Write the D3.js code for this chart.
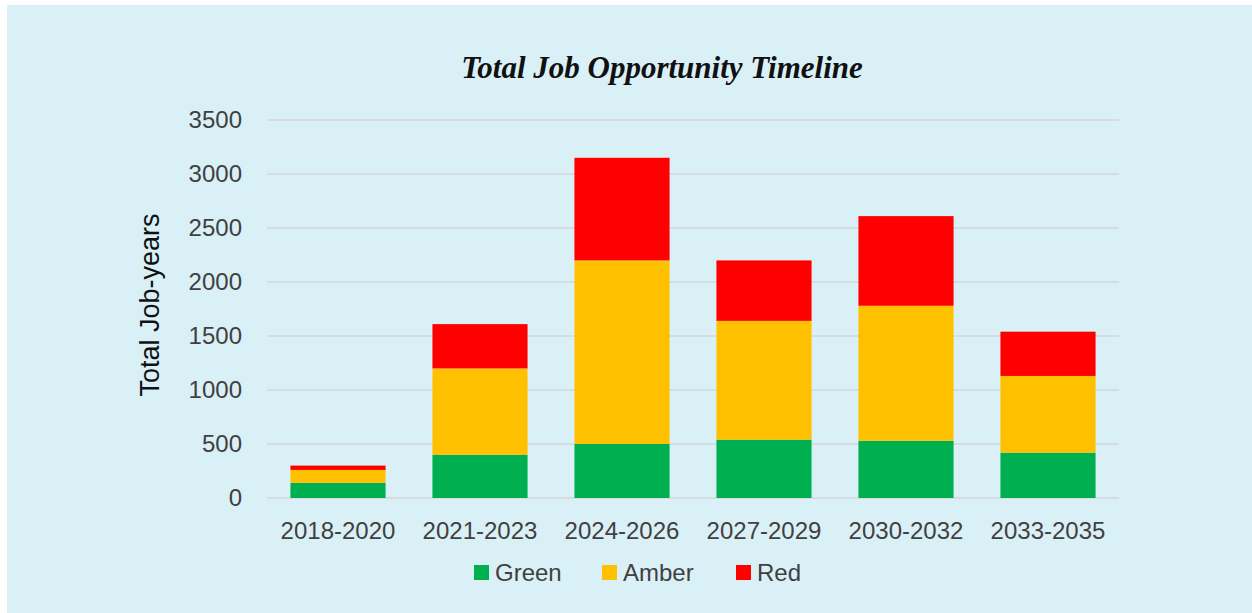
<!DOCTYPE html>
<html>
<head>
<meta charset="utf-8">
<script src="https://cdn.jsdelivr.net/npm/d3@7"></script>
<style>
  body { margin: 0; background: #fff; }
  svg { display: block; }
</style>
</head>
<body>
<div id="chart"></div>
<script>
const periods = ["2018-2020", "2021-2023", "2024-2026", "2027-2029", "2030-2032", "2033-2035"];
const green = [140, 400, 500, 540, 530, 420];
const amber = [120, 800, 1700, 1100, 1250, 710];
const red = [40, 410, 950, 560, 830, 410];
const yTicks = [0, 500, 1000, 1500, 2000, 2500, 3000, 3500];
const seriesNames = ["Green", "Amber", "Red"];

const W = 1252, H = 613;
const margin = { top: 120, right: 133, bottom: 115, left: 267 };
const width = W - margin.left - margin.right;
const height = H - margin.top - margin.bottom;

const color = d3.scaleOrdinal().domain(seriesNames).range(["#00B050", "#FFC000", "#FF0000"]);

const rows = periods.map((p, i) => ({ period: p, Green: green[i], Amber: amber[i], Red: red[i] }));
const stacked = d3.stack().keys(seriesNames)(rows);

const svg = d3.select("#chart").append("svg")
  .attr("width", W)
  .attr("height", H);

// panel background
svg.append("rect")
  .attr("x", 7).attr("y", 5)
  .attr("width", W - 7).attr("height", H - 5)
  .attr("fill", "#DAF0F7");

svg.append("text")
  .attr("x", 662)
  .attr("y", 78)
  .attr("text-anchor", "middle")
  .style("font-family", "'Liberation Serif', serif")
  .style("font-style", "italic")
  .style("font-weight", "bold")
  .style("font-size", "31px")
  .style("fill", "#111")
  .text("Total Job Opportunity Timeline");

const g = svg.append("g").attr("transform", `translate(${margin.left},${margin.top})`);

const x = d3.scaleBand().domain(periods).range([0, width]).paddingInner(0.33).paddingOuter(0.165);
const y = d3.scaleLinear().domain([0, 3500]).range([height, 0]);

// gridlines
g.append("g")
  .selectAll("line")
  .data(yTicks)
  .enter()
  .append("line")
  .attr("x1", 0).attr("x2", width)
  .attr("y1", (d) => y(d)).attr("y2", (d) => y(d))
  .attr("stroke", "#D6DCDF")
  .attr("stroke-width", 2);

const yaxis = d3.axisLeft(y).tickValues(yTicks).tickFormat(d3.format("d")).tickSize(0).tickPadding(25);
const ya = g.append("g").call(yaxis);
ya.select(".domain").remove();
ya.selectAll("text")
  .style("font-family", "'Liberation Sans', Arial, sans-serif")
  .style("font-size", "24px")
  .style("fill", "#404040");

const xaxis = d3.axisBottom(x).tickSize(0).tickPadding(24);
const xa = g.append("g").attr("transform", `translate(0,${height})`).call(xaxis);
xa.select(".domain").remove();
xa.selectAll("text")
  .style("font-family", "'Liberation Sans', Arial, sans-serif")
  .style("font-size", "24px")
  .style("fill", "#404040");

// bars
g.selectAll(".layer")
  .data(stacked)
  .enter()
  .append("g")
  .attr("class", "layer")
  .attr("fill", (d) => color(d.key))
  .selectAll("rect")
  .data((d) => d)
  .enter()
  .append("rect")
  .attr("x", (d) => x(d.data.period))
  .attr("width", x.bandwidth())
  .attr("y", (d) => y(d[1]))
  .attr("height", (d) => y(d[0]) - y(d[1]));

// y axis title
svg.append("text")
  .attr("transform", "rotate(-90)")
  .attr("x", -305)
  .attr("y", 159)
  .attr("text-anchor", "middle")
  .style("font-family", "'Liberation Sans', Arial, sans-serif")
  .style("font-size", "27px")
  .style("fill", "#111")
  .text("Total Job-years");

// legend
const legendX = [474, 602, 736];
const legend = svg.selectAll(".legend")
  .data(seriesNames)
  .enter()
  .append("g")
  .attr("class", "legend")
  .attr("transform", (d, i) => `translate(${legendX[i]},565)`);

legend.append("rect")
  .attr("width", 15).attr("height", 15)
  .attr("fill", (d) => color(d));

legend.append("text")
  .attr("x", 21)
  .attr("y", 16)
  .style("font-family", "'Liberation Sans', Arial, sans-serif")
  .style("font-size", "24px")
  .style("fill", "#404040")
  .text((d) => d);
</script>
</body>
</html>
